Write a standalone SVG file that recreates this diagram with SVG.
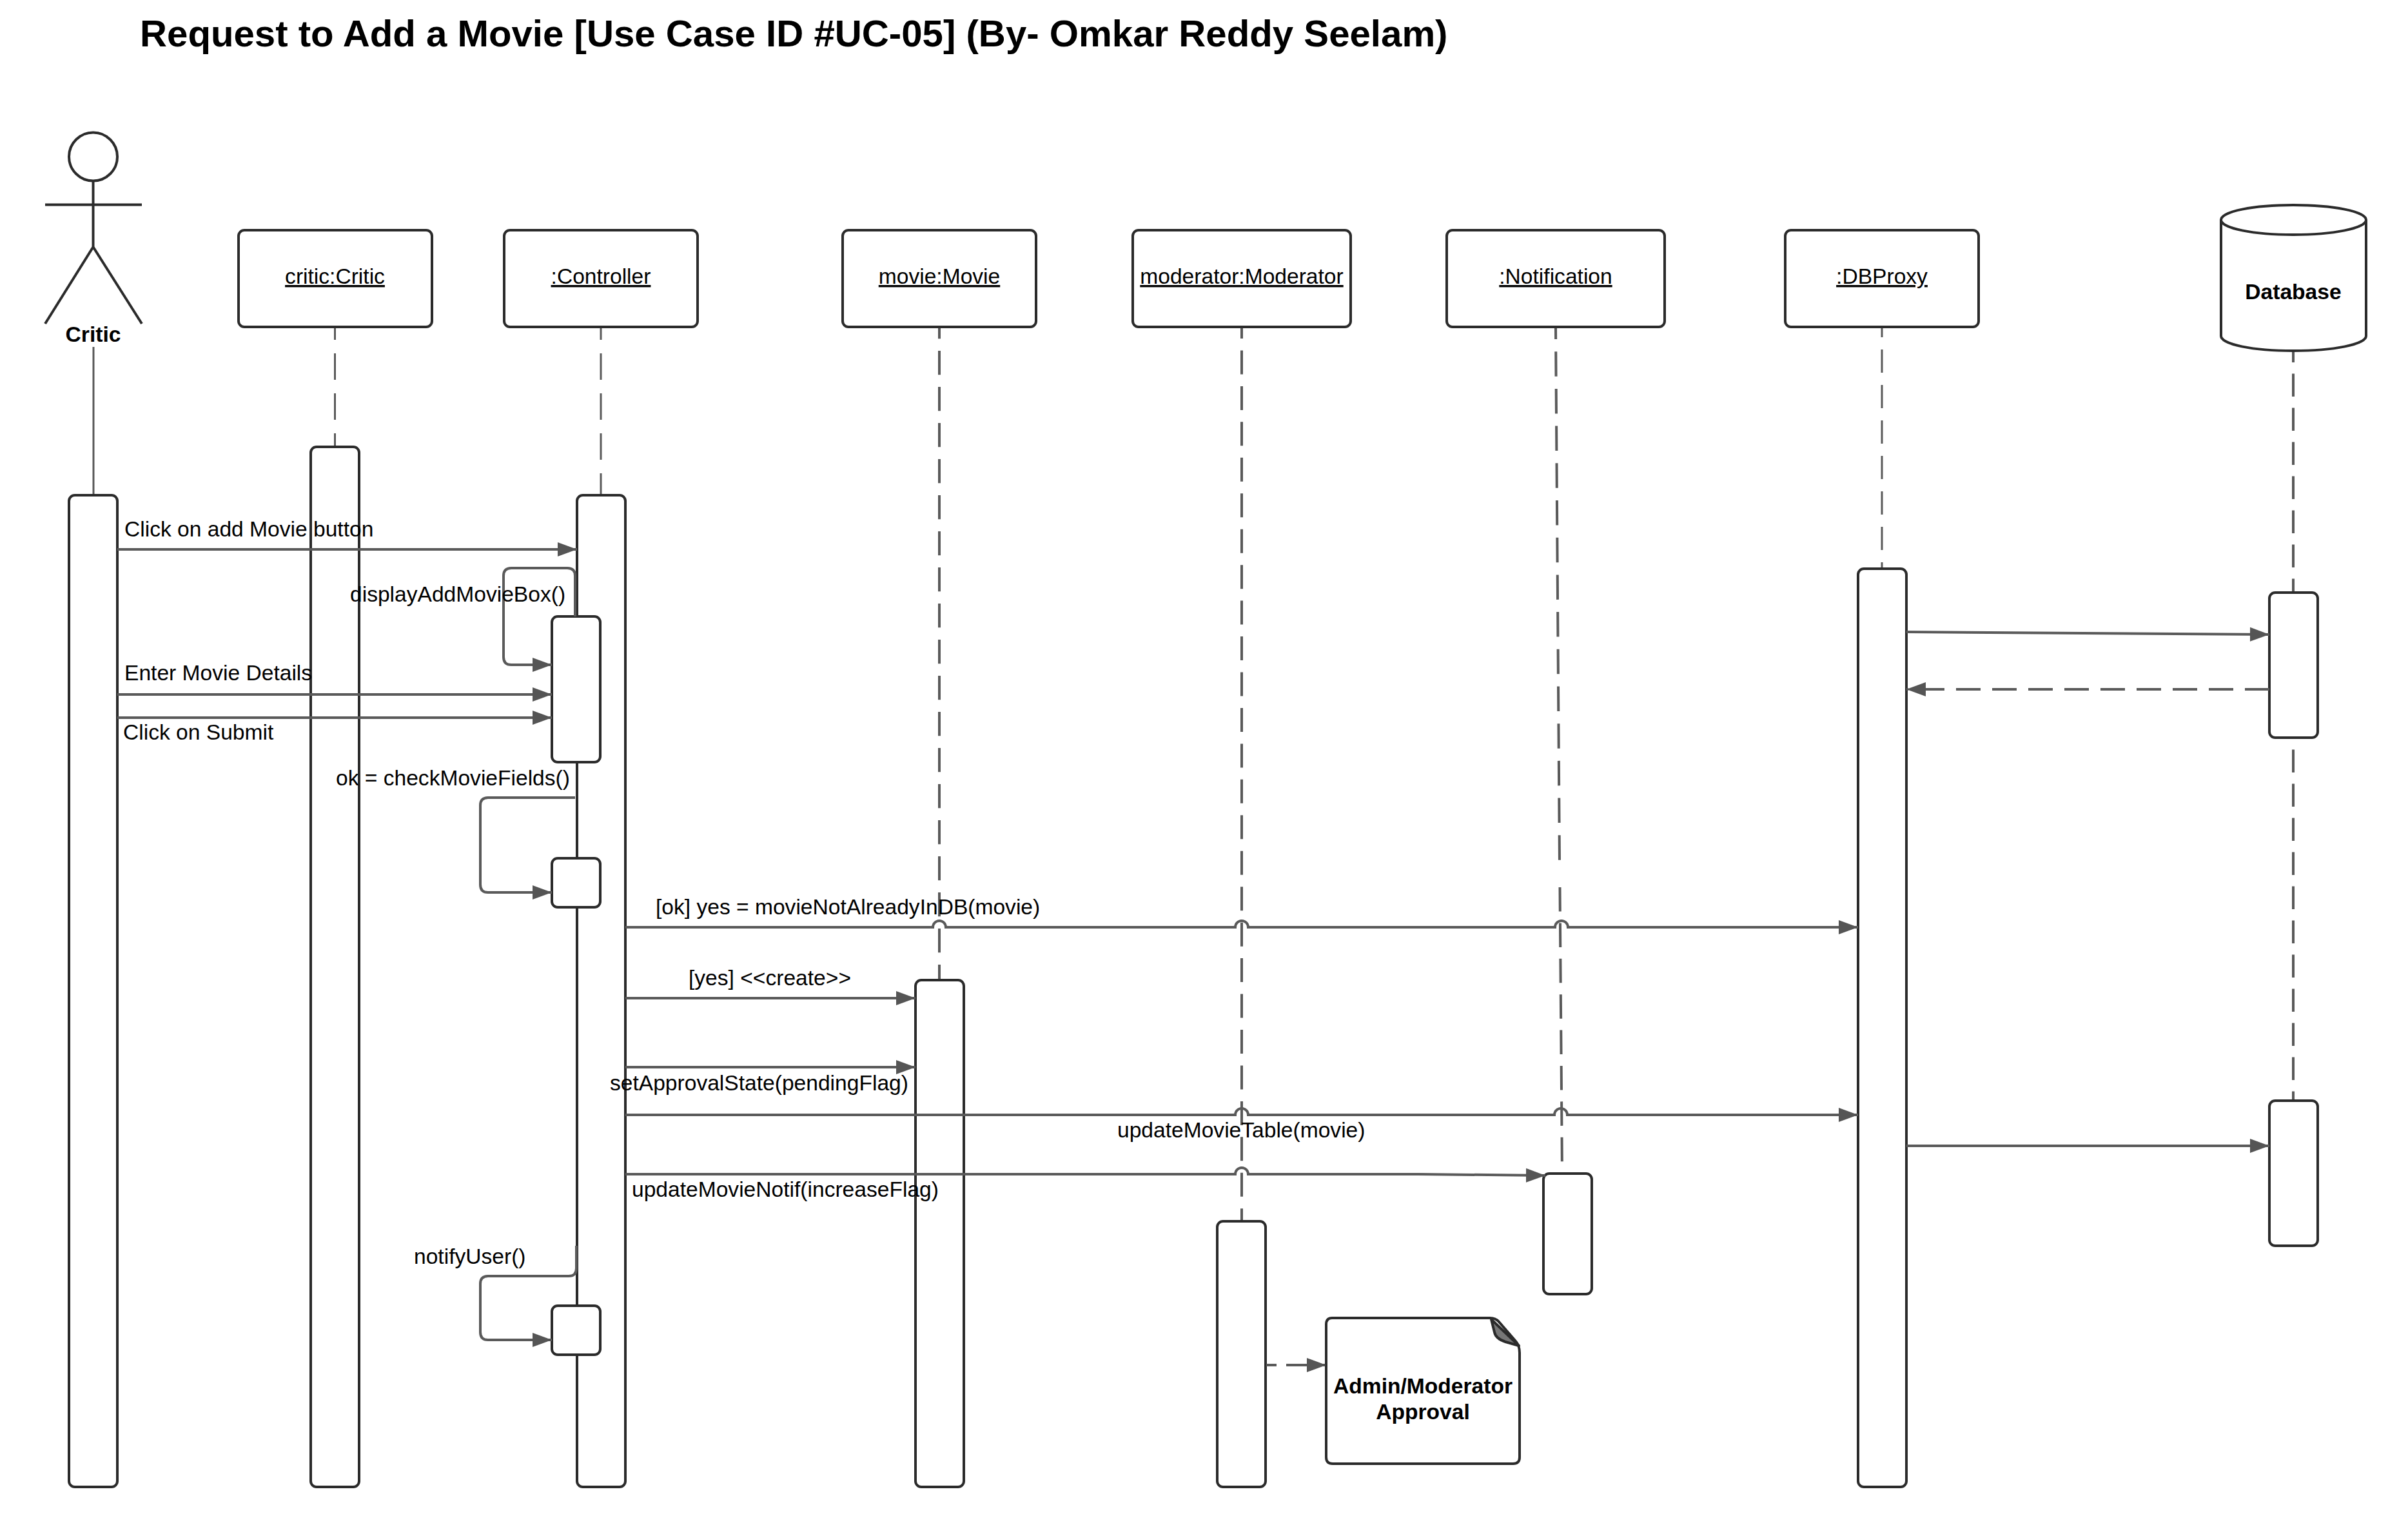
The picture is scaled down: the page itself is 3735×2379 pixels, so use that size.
<svg xmlns="http://www.w3.org/2000/svg" width="3735" height="2379" viewBox="0 0 3735 2379">
<style>
text{font-family:"Liberation Sans",Arial,sans-serif;font-size:33.6px;fill:#000}
.b{font-weight:bold}
.m{text-anchor:middle}
.u{text-decoration:underline}
.box{fill:#fff;stroke:#2b2b2b;stroke-width:4}
.act{fill:#fff;stroke:#2b2b2b;stroke-width:4}
.ln{fill:none;stroke:#5a5a5a;stroke-width:4}
.th{fill:none;stroke:#5a5a5a;stroke-width:3}
.ll{fill:none;stroke:#5a5a5a;stroke-width:3;stroke-dasharray:41 21;stroke-dashoffset:21}
.lt{fill:none;stroke:#5a5a5a;stroke-width:4;stroke-dasharray:37.3 18.7;stroke-dashoffset:19}
.ds{fill:none;stroke:#5a5a5a;stroke-width:4;stroke-dasharray:38 18}
</style>
<defs>
<marker id="a" markerUnits="userSpaceOnUse" markerWidth="32" markerHeight="26" refX="30" refY="13" orient="auto"><path d="M0 2L30 13L0 24Z" fill="#555"/></marker>
</defs>
<rect width="3735" height="2379" fill="#fff"/>
<text class="b" x="217" y="72" style="font-size:58.2px">Request to Add a Movie [Use Case ID #UC-05] (By- Omkar Reddy Seelam)</text>
<g id="lifelines">
<path class="th" d="M145 538V768"/>
<path class="ll" d="M519.500 507V693"/>
<path class="ll" d="M932 507V768"/>
<path class="lt" d="M1457 507V1520"/>
<path class="lt" style="stroke-dasharray:37 18.450" d="M1926 507V1893"/>
<path class="lt" style="stroke-dasharray:38.500 19.200;stroke-dashoffset:19.500" d="M2413 507L2419 1340"/>
<path class="lt" style="stroke-dasharray:37.500 17.900;stroke-dashoffset:0" d="M2419.500 1376L2423 1820"/>
<path class="ll" style="stroke-dasharray:36 19;stroke-dashoffset:20" d="M2919 507V881"/>
<path class="lt" style="stroke-dasharray:35.500 17.500;stroke-dashoffset:17.500" d="M3557 544V1706"/>
</g>
<g id="critic-actor"><g fill="none" stroke="#2b2b2b" stroke-width="4"><circle cx="144.500" cy="243" r="37.500" fill="#fff"/><path d="M144.500 280.500V383M70 317.500H220M70 502L144.500 383L220 502"/></g><text class="b m" x="144.500" y="530">Critic</text></g>
<g id="critic-box"><rect class="box" x="370" y="357" width="300" height="150" rx="9"/><text class="m u" x="519.500" y="440">critic:Critic</text></g>
<g id="controller-box"><rect class="box" x="782" y="357" width="300" height="150" rx="9"/><text class="m u" x="932" y="440">:Controller</text></g>
<g id="movie-box"><rect class="box" x="1307" y="357" width="300" height="150" rx="9"/><text class="m u" x="1457" y="440">movie:Movie</text></g>
<g id="moderator-box"><rect class="box" x="1757" y="357" width="338" height="150" rx="9"/><text class="m u" x="1926" y="440">moderator:Moderator</text></g>
<g id="notification-box"><rect class="box" x="2244" y="357" width="338" height="150" rx="9"/><text class="m u" x="2413" y="440">:Notification</text></g>
<g id="dbproxy-box"><rect class="box" x="2769" y="357" width="300" height="150" rx="9"/><text class="m u" x="2919" y="440">:DBProxy</text></g>
<g id="database"><path class="box" d="M3445 341C3445 328 3495 318 3557 318S3670 328 3670 341V521C3670 534 3620 544 3557 544S3445 534 3445 521ZM3445 341C3445 354 3495 364 3557 364S3670 354 3670 341"/><text class="b m" x="3557" y="464">Database</text></g>
<g id="activations">
<rect class="act" x="107" y="768" width="75" height="1538" rx="9"/>
<rect class="act" x="482" y="693" width="75" height="1613" rx="9"/>
<rect class="act" x="895" y="768" width="75" height="1538" rx="9"/>
<rect class="act" x="856" y="956" width="75" height="226" rx="9"/>
<rect class="act" x="856" y="1331" width="75" height="76" rx="9"/>
<rect class="act" x="856" y="2025" width="75" height="76" rx="9"/>
<rect class="act" x="1420" y="1520" width="75" height="786" rx="9"/>
<rect class="act" x="1888" y="1894" width="75" height="412" rx="9"/>
<rect class="act" x="2394" y="1820" width="75" height="187" rx="9"/>
<rect class="act" x="2882" y="882" width="75" height="1424" rx="9"/>
<rect class="act" x="3520" y="919" width="75" height="225" rx="9"/>
<rect class="act" x="3520" y="1707" width="75" height="225" rx="9"/>
</g>
<g id="note"><path class="box" d="M2066 2044H2311Q2320 2044 2325 2050L2351 2080Q2357 2087 2357 2098V2260Q2357 2270 2347 2270H2067Q2057 2270 2057 2260V2054Q2057 2044 2066 2044Z"/><path d="M2313 2046L2356 2087L2335 2081Q2320 2076 2318 2066Z" fill="#777" stroke="#2b2b2b" stroke-width="4" stroke-linejoin="round"/><text class="b m" x="2207" y="2161">Admin/Moderator</text><text class="b m" x="2207" y="2201">Approval</text></g>
<g id="connectors">
<path class="ln" d="M182 852H895" marker-end="url(#a)"/>
<path class="ln" d="M892 956V893Q892 881 880 881H793Q781 881 781 893V1019Q781 1031 793 1031H856" marker-end="url(#a)"/>
<path class="ln" d="M182 1077H856" marker-end="url(#a)"/>
<path class="ln" d="M182 1113H856" marker-end="url(#a)"/>
<path class="ln" d="M892 1237H757Q745 1237 745 1249V1372Q745 1384 757 1384H856" marker-end="url(#a)"/>
<path class="ln" d="M894 1932V1967Q894 1979 882 1979H757Q745 1979 745 1991V2066Q745 2078 757 2078H856" marker-end="url(#a)"/>
<path class="ln" d="M970 1438H1447A10 10 0 0 1 1467 1438H1916A10 10 0 0 1 1936 1438H2412A10 10 0 0 1 2432 1438H2882" marker-end="url(#a)"/>
<path class="ln" d="M970 1548H1420" marker-end="url(#a)"/>
<path class="ln" d="M970 1655H1420" marker-end="url(#a)"/>
<path class="ln" d="M970 1729H1916A10 10 0 0 1 1936 1729H2411A10 10 0 0 1 2431 1729H2882" marker-end="url(#a)"/>
<path class="ln" d="M970 1821H1916A10 10 0 0 1 1936 1821H2200L2397 1823" marker-end="url(#a)"/>
<path class="ln" d="M2957 980L3520 984" marker-end="url(#a)"/>
<path class="ds" d="M3520 1069H2957" marker-end="url(#a)"/>
<path class="ln" d="M2957 1777H3520" marker-end="url(#a)"/>
<path class="ln" style="stroke-dasharray:16 15 60" d="M1964 2117H2057" marker-end="url(#a)"/>
</g>
<g id="labels">
<text x="193" y="832">Click on add Movie button</text>
<text x="543" y="933">displayAddMovieBox()</text>
<text x="193" y="1055">Enter Movie Details</text>
<text x="191" y="1147">Click on Submit</text>
<text x="521" y="1218">ok = checkMovieFields()</text>
<text x="1017" y="1418">[ok] yes = movieNotAlreadyInDB(movie)</text>
<text x="1068" y="1528">[yes] &lt;&lt;create&gt;&gt;</text>
<text x="946" y="1691">setApprovalState(pendingFlag)</text>
<text x="1733" y="1764">updateMovieTable(movie)</text>
<text x="980" y="1856">updateMovieNotif(increaseFlag)</text>
<text x="642" y="1960">notifyUser()</text>
</g>
</svg>
